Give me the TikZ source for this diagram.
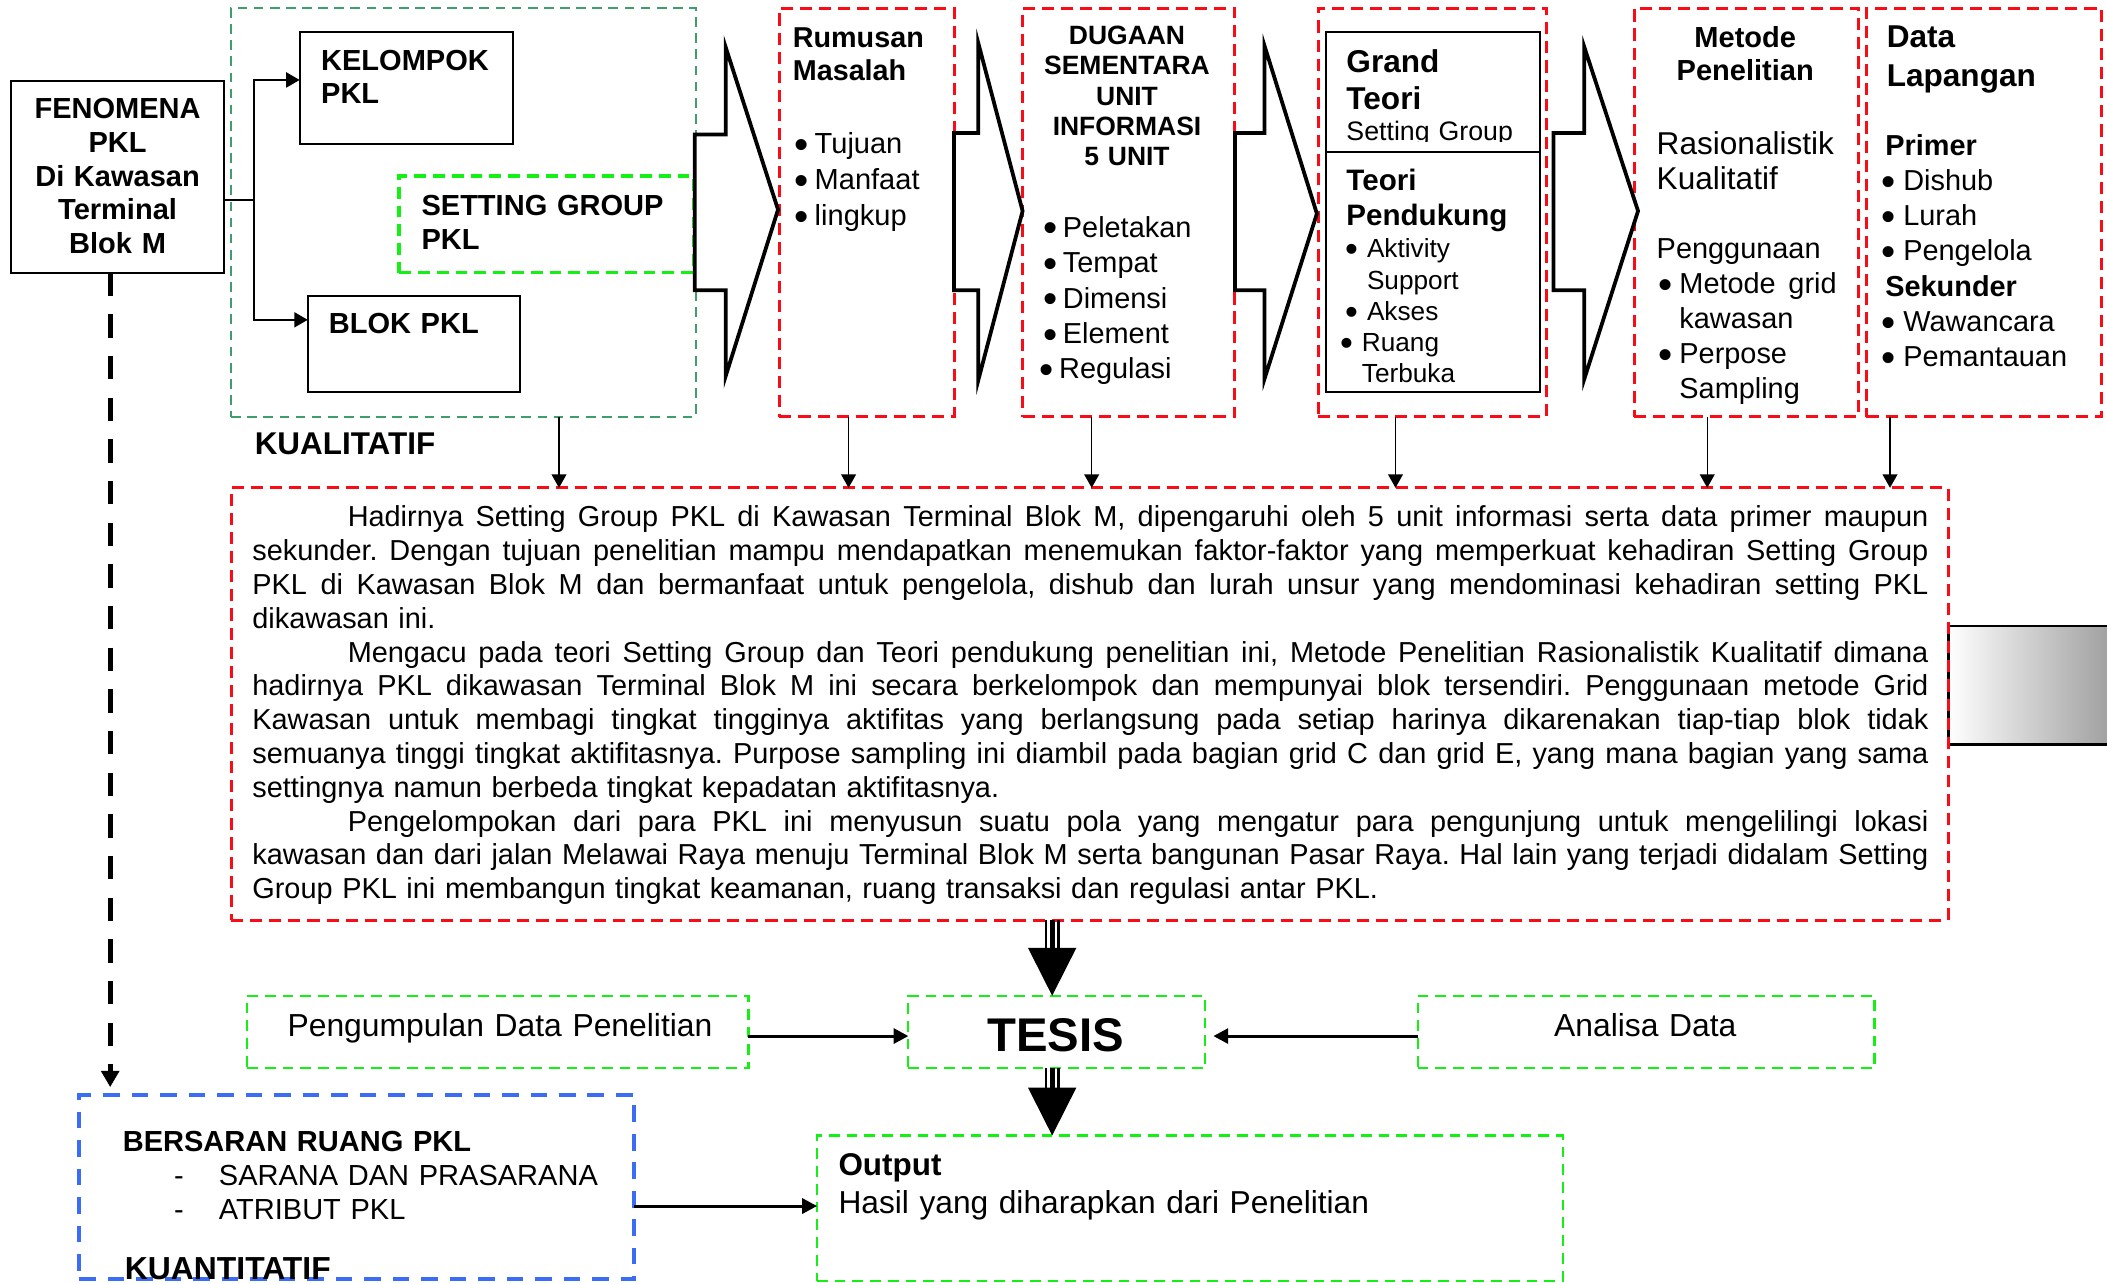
\documentclass[tikz,border=0pt]{standalone}
\usepackage{fontspec}
\usepackage{graphicx}
\setmainfont{Liberation Sans}
\usetikzlibrary{arrows.meta}

\definecolor{dashred}{RGB}{250,12,22}
\definecolor{dashteal}{RGB}{62,158,108}
\definecolor{dashlime}{RGB}{20,240,20}
\definecolor{dashblue}{RGB}{58,108,246}

% font of a given size and line spacing (both in pt)
\newcommand\fsz[2]{\fontsize{#1pt}{#2pt}\selectfont}
% large bullet set in a box of fixed width, followed by the item text
\newcommand\bigdot{\raisebox{-0.16em}{\scalebox{1.4}{•}}}
\newcommand\bul[2][6.3pt]{\makebox[#1][l]{\hspace*{-1.4pt}\bigdot}#2}
% a fully justified line of the summary paragraph
\newcommand\jl[1]{{\spaceskip=\fontdimen2\font plus 10pt minus 1.6pt
  \xspaceskip=\spaceskip\makebox[623.7pt][s]{#1}}}
% rectangular frame node given by its top-left and bottom-right corners
\newcommand\boxnode[6]{%
  \node[#6, anchor=north west, inner sep=0pt, outer sep=0pt,
        minimum width={(#4-#2)*0.5pt}, minimum height={(#5-#3)*0.5pt}]
        (#1) at (#2,#3) {};}
% heavy downward arrow with a triple shaft, from #1 to the tip #2
\newcommand\triplearrow[2]{%
  \draw[line width=0.9pt] ([xshift=-2.4pt]#1) -- ([xshift=-2.4pt,yshift=17.8pt]#2);
  \draw[line width=1.8pt] (#1) -- ([yshift=17.8pt]#2);
  \draw[line width=1.1pt] ([xshift=2.4pt]#1) -- ([xshift=2.4pt,yshift=17.8pt]#2);
  \fill ([xshift=-9pt,yshift=17.8pt]#2) -- ([xshift=9pt,yshift=17.8pt]#2) -- (#2) -- cycle;}

\begin{document}
\frenchspacing
\begin{tikzpicture}[x=0.5pt, y=-0.5pt,
  solidbox/.style={draw=black, line width=0.8pt},
  redbox/.style={draw=dashred, line width=1.1pt, dash pattern=on 4.5pt off 2.6pt},
  tealbox/.style={draw=dashteal, line width=0.8pt, dash pattern=on 3.6pt off 2.4pt},
  limebold/.style={draw=dashlime, line width=1.2pt, dash pattern=on 4.4pt off 2.6pt},
  limebox/.style={draw=dashlime, line width=0.8pt, dash pattern=on 4pt off 2.6pt},
  bluebox/.style={draw=dashblue, line width=1.5pt, dash pattern=on 6.2pt off 4.4pt},
  chevron/.style={draw=black, fill=white, line width=1.4pt, line join=miter},
  link/.style={draw=black, line width=0.7pt},
  linkarrow/.style={link, -{Triangle[length=5pt,width=5.6pt]}},
  downarrow/.style={draw=black, line width=0.55pt, -{Triangle[length=5pt,width=5.5pt]}},
  heavyarrow/.style={draw=black, line width=1.1pt, -{Triangle[length=5.5pt,width=5.6pt]}},
  txt/.style={inner sep=0pt, outer sep=0pt, anchor=base west, align=left, text width=#1},
  txt/.default=60pt,
  ctxt/.style={inner sep=0pt, outer sep=0pt, anchor=base, align=center, text width=#1},
  ctxt/.default=60pt,
]
\useasboundingbox (0,0) rectangle (1568,955);

% ---------- grey tab on the right of the summary ----------
\shade[left color=white, middle color=black!13, right color=black!38] (1450,466) rectangle (1572,554);
\draw[line width=0.9pt] (1572,466) -- (1450,466) -- (1450,554) -- (1572,554);

% ---------- frames ----------
\boxnode{qual}{172}{6}{518}{310}{tealbox}
\boxnode{feno}{8}{60}{167}{203}{solidbox}
\boxnode{kel}{223}{24}{382}{107}{solidbox}
\boxnode{setg}{297}{131}{516}{203}{limebold}
\boxnode{blok}{229}{220}{387}{292}{solidbox}
\boxnode{rum}{580}{6}{710}{310}{redbox}
\boxnode{dug}{761}{6}{919}{310}{redbox}
\boxnode{grand}{981}{6}{1151}{310}{redbox}
\boxnode{grandtop}{987}{24}{1146}{113}{solidbox}
\boxnode{grandbot}{987}{113}{1146}{292}{solidbox}
\boxnode{met}{1216}{6}{1383}{310}{redbox}
\boxnode{data}{1389}{6}{1564}{310}{redbox}
\boxnode{par}{172}{363}{1450}{685}{redbox}
\boxnode{pengum}{184}{741}{557}{795}{limebox}
\boxnode{tesis}{676}{741}{897}{795}{limebox}
\boxnode{anal}{1055}{741}{1395}{795}{limebox}
\boxnode{outp}{608}{845}{1163}{953}{limebox}
\boxnode{blue}{59}{815}{472}{952}{bluebox}

% ---------- block arrows between the stages ----------
\draw[chevron] (517,100) -- (540,100) -- (540,35) -- (579,156) -- (540,280) -- (540,216) -- (517,216) -- cycle;
\draw[chevron] (710,99) -- (728,99) -- (728,32) -- (761,157) -- (728,283) -- (728,216) -- (710,216) -- cycle;
\draw[chevron] (919,99) -- (941,99) -- (941,34) -- (980,159) -- (941,282) -- (941,216) -- (919,216) -- cycle;
\draw[chevron] (1156,99) -- (1179,99) -- (1179,35) -- (1219,157) -- (1179,282) -- (1179,216) -- (1156,216) -- cycle;

% ---------- texts of the upper stages ----------
\node[ctxt=70pt, font=\fsz{10.8}{12.55}\bfseries] (fenotxt) at (87.5,88.4)
  {FENOMENA\\PKL\\Di Kawasan\\Terminal\\Blok M};
\node[txt=70pt, font=\fsz{10.8}{12.35}\bfseries] (keltxt) at (239,52.5) {KELOMPOK\\PKL};
\node[txt=96pt, font=\fsz{10.8}{12.75}\bfseries] (setgtxt) at (313.7,160.4) {SETTING GROUP\\PKL};
\node[txt=62pt, font=\fsz{10.8}{12.6}\bfseries] (bloktxt) at (244.7,248.4) {BLOK PKL};
\node[txt=76pt, font=\fsz{11.7}{13}\bfseries] (qualtxt) at (189.6,338.5) {KUALITATIF};

\node[txt=55pt, font=\fsz{10.7}{12.4}\bfseries] (rumtxt) at (590,35) {Rumusan\\Masalah};
\node[txt=55pt, font=\fsz{10.8}{13.3}] (rumlist) at (593.7,114.5)
  {\bul{Tujuan}\\\bul{Manfaat}\\\bul{lingkup}};

\node[ctxt=70pt, font=\fsz{9.85}{11.3}\bfseries] (dugtxt) at (838.7,33)
  {DUGAAN\\SEMENTARA\\UNIT\\INFORMASI\\5 UNIT};
\node[txt=60pt, font=\fsz{10.75}{13.2}] (duglist) at (779,176.4)
  {\bul[6pt]{Peletakan}\\\bul[6pt]{Tempat}\\\bul[6pt]{Dimensi}\\\bul[6pt]{Element}\\\hspace*{-1.2pt}\bul[5.8pt]{Regulasi}};

\node[txt=60pt, font=\fsz{11.75}{13.65}\bfseries] (grandtxt) at (1002,54.3) {Grand\\Teori};
\begin{scope}
  \clip (987,24) rectangle (1146,105.6);
  \node[txt=70pt, font=\fsz{9.95}{11.5}] (grandsub) at (1002,104.8) {Setting Group};
\end{scope}
\node[txt=66pt, font=\fsz{11}{13}\bfseries] (supptxt) at (1002,142) {Teori\\Pendukung};
\begin{scope}
  \clip (987,113) rectangle (1146,285.5);
  \node[txt=55pt, font=\fsz{9.75}{11.65}] (supplist) at (1003.9,191.8)
    {\bul[6.7pt]{Aktivity}\\\hspace*{6.7pt}Support\\\bul[6.7pt]{Akses}\\
     \hspace*{-1.95pt}\bul[6.75pt]{Ruang}\\\hspace*{4.8pt}Terbuka};
\end{scope}

\node[ctxt=60pt, font=\fsz{10.8}{12.4}\bfseries] (mettxt) at (1298.8,35) {Metode\\Penelitian};
\node[txt=72pt, font=\fsz{11.75}{13}] (metkind) at (1232.9,115.1) {Rasionalistik\\Kualitatif};
\node[txt=72pt, font=\fsz{10.75}{13}] (metlist) at (1232.9,192.5)
  {Penggunaan\\
   \hspace*{1.95pt}\bul[6.5pt]{\makebox[58.5pt][s]{Metode\hfill grid}}\\
   \hspace*{8.45pt}kawasan\\
   \hspace*{1.95pt}\bul[6.5pt]{Perpose}\\
   \hspace*{8.45pt}Sampling};

\node[txt=62pt, font=\fsz{11.75}{14.25}\bfseries] (datatxt) at (1404.1,35.7) {Data\\Lapangan};
\node[txt=74pt, font=\fsz{10.75}{13.1}] (datalist) at (1403,115.6)
  {\textbf{Primer}\\\bul[6.7pt]{Dishub}\\\bul[6.7pt]{Lurah}\\\bul[6.7pt]{Pengelola}\\
   \textbf{Sekunder}\\\bul[6.7pt]{Wawancara}\\\bul[6.7pt]{Pemantauan}};

% ---------- summary paragraph ----------
\node[txt=623.7pt, font=\fsz{10.75}{12.58}] (partxt) at (187.8,392)
 {\jl{\hspace*{35.5pt}Hadirnya Setting Group PKL di Kawasan Terminal Blok M, dipengaruhi oleh 5 unit informasi serta data primer maupun}\\
  \jl{sekunder. Dengan tujuan penelitian mampu mendapatkan menemukan faktor-faktor yang memperkuat kehadiran Setting Group}\\
  \jl{PKL di Kawasan Blok M dan bermanfaat untuk pengelola, dishub dan lurah unsur yang mendominasi kehadiran setting PKL}\\
  dikawasan ini.\\
  \jl{\hspace*{35.5pt}Mengacu pada teori Setting Group dan Teori pendukung penelitian ini, Metode Penelitian Rasionalistik Kualitatif dimana}\\
  \jl{hadirnya PKL dikawasan Terminal Blok M ini secara berkelompok dan mempunyai blok tersendiri. Penggunaan metode Grid}\\
  \jl{Kawasan untuk membagi tingkat tingginya aktifitas yang berlangsung pada setiap harinya dikarenakan tiap-tiap blok tidak}\\
  \jl{semuanya tinggi tingkat aktifitasnya. Purpose sampling ini diambil pada bagian grid C dan grid E, yang mana bagian yang sama}\\
  settingnya namun berbeda tingkat kepadatan aktifitasnya.\\
  \jl{\hspace*{35.5pt}Pengelompokan dari para PKL ini menyusun suatu pola yang mengatur para pengunjung untuk mengelilingi lokasi}\\
  \jl{kawasan dan dari jalan Melawai Raya menuju Terminal Blok M serta bangunan Pasar Raya. Hal lain yang terjadi didalam Setting}\\
  Group PKL ini membangun tingkat keamanan, ruang transaksi dan regulasi antar PKL.};

% ---------- lower part ----------
\node[ctxt=60pt, font=\fsz{17.6}{20}\bfseries] (tesistxt) at (785.6,782.7) {TESIS};
\node[txt=165pt, font=\fsz{11.85}{14}] (pengumtxt) at (214,771.5) {Pengumpulan Data Penelitian};
\node[ctxt=72pt, font=\fsz{11.85}{14}] (analtxt) at (1224.4,771.5) {Analisa Data};
\node[txt=46pt, font=\fsz{11.7}{14}\bfseries] (outptxt) at (624,874.5) {Output};
\node[txt=200pt, font=\fsz{11.8}{14}] (outpsub) at (624,903) {Hasil yang diharapkan dari Penelitian};
\node[txt=135pt, font=\fsz{10.8}{12.7}\bfseries] (bluetxt) at (91.4,857) {BERSARAN RUANG PKL};
\node[txt=160pt, font=\fsz{10.8}{12.7}] (bluelist) at (129.5,882)
  {\makebox[16.7pt][l]{-}SARANA DAN PRASARANA\\\makebox[16.7pt][l]{-}ATRIBUT PKL};
\node[txt=82pt, font=\fsz{11.85}{14}\bfseries] (quanttxt) at (93,952) {KUANTITATIF};

% ---------- connectors ----------
\coordinate (fout) at ([yshift=-8.75pt]feno.east);
\coordinate (split) at ([xshift=11pt]fout);
\draw[link] (fout) -- (split);
\draw[linkarrow] (split) |- ([yshift=3pt]kel.west);
\draw[linkarrow] (split) |- ([yshift=9pt]blok.west);

\coordinate (d1) at ([xshift=35.5pt]qual.south);
\coordinate (d2) at ([xshift=-6.75pt]rum.south);
\coordinate (d3) at ([xshift=-13.8pt]dug.south);
\coordinate (d4) at ([xshift=-13.75pt]grand.south);
\coordinate (d5) at ([xshift=-14.5pt]met.south);
\coordinate (d6) at ([xshift=-35pt]data.south);
\foreach \d in {d1,d2,d3,d4,d5,d6}
  \draw[downarrow] (\d) -- (\d |- par.north);

\coordinate (s1) at ([xshift=-14pt]par.south);
\coordinate (t1) at (s1 |- tesis.north);
\coordinate (s2) at (s1 |- tesis.south);
\coordinate (t2) at (s1 |- outp.north);
\triplearrow{s1}{t1}
\triplearrow{s2}{t2}

\coordinate (p1) at ([yshift=-1.5pt]pengum.east);
\draw[heavyarrow] (p1) -- (p1 -| tesis.west);
\coordinate (a1) at ([yshift=-1.5pt]anal.west);
\draw[heavyarrow, shorten >=3pt] (a1) -- (a1 -| tesis.east);
\coordinate (b1) at ([yshift=-7pt]blue.east);
\draw[heavyarrow] (b1) -- (b1 -| outp.west);

\coordinate (v1) at ([xshift=-2.75pt]feno.south);
\draw[line width=1.8pt, dash pattern=on 8.7pt off 6.8pt,
      -{Triangle[length=6pt,width=6.5pt]}, shorten >=3pt] (v1) -- (v1 |- blue.north);
\end{tikzpicture}
\end{document}
